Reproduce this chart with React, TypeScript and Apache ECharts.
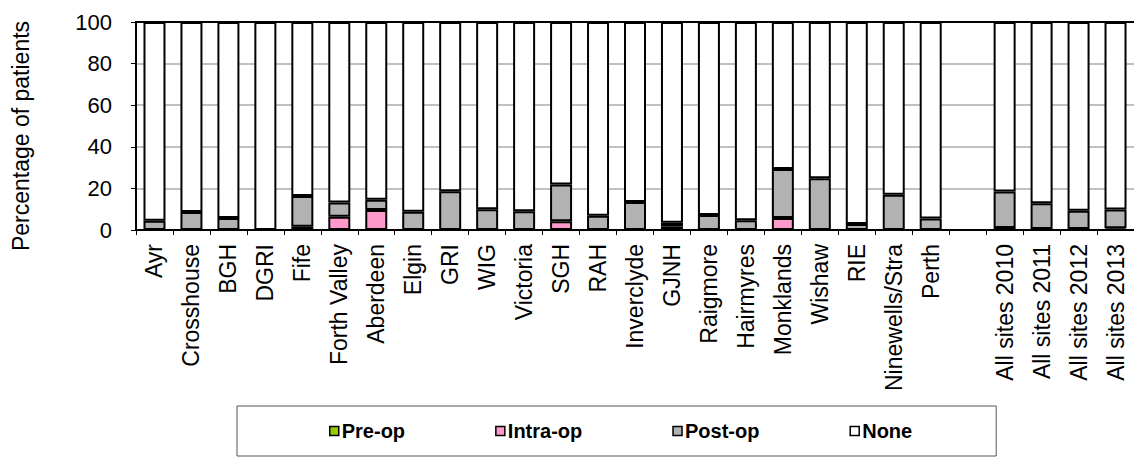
import React, { useEffect, useRef } from "react";
import * as echarts from "echarts";

const categories = [
  "Ayr", "Crosshouse", "BGH", "DGRI", "Fife", "Forth Valley", "Aberdeen", "Elgin",
  "GRI", "WIG", "Victoria", "SGH", "RAH", "Inverclyde", "GJNH", "Raigmore",
  "Hairmyres", "Monklands", "Wishaw", "RIE", "Ninewells/Stra", "Perth", "",
  "All sites 2010", "All sites 2011", "All sites 2012", "All sites 2013",
];

const preOp: (number | string)[] = [
  0, 0, 0, 0, 0, 0, 0, 0, 0, 0, 0, 0, 0, 0, 0, 0, 0, 0, 0, 0, 0, 0, "-", 0, 0, 0, 0,
];
const intraOp: (number | string)[] = [
  0, 0, 0, 0, 1.6, 6.4, 9.6, 0, 0, 0, 0, 4.2, 0, 0, 1.6, 0, 0, 5.8, 0, 0, 0, 0, "-", 1.0, 0.5, 0.5, 0.8,
];
const postOp: (number | string)[] = [
  4.5, 8.7, 5.8, 0, 14.8, 6.8, 4.9, 8.8, 18.6, 10.0, 9.0, 17.7, 6.9, 13.5, 1.9, 7.2,
  4.7, 23.5, 24.9, 2.9, 16.9, 5.5, "-", 17.5, 12.4, 8.8, 9.0,
];
const num = (v: number | string) => (typeof v === "number" ? v : 0);
const none: (number | string)[] = categories.map((_, i) =>
  typeof postOp[i] === "number"
    ? Math.round((100 - num(preOp[i]) - num(intraOp[i]) - num(postOp[i])) * 10) / 10
    : "-"
);
// zero-height segments are left out so they draw no extra outline
const hideZero = (arr: (number | string)[]) => arr.map((v) => (v === 0 ? "-" : v));

const yTicks = { min: 0, max: 100, interval: 20 };

const FONT = "'Liberation Sans', Arial, sans-serif";

export default function App() {
  const ref = useRef<HTMLDivElement>(null);
  useEffect(() => {
    if (!ref.current) return;
    const chart = echarts.init(ref.current, undefined, { renderer: "svg" });
    const barCommon = {
      type: "bar" as const,
      stack: "total",
      barWidth: 22,
      itemStyle: { borderColor: "#000", borderWidth: 2 },
    };
    chart.setOption({
      animation: false,
      backgroundColor: "#fff",
      textStyle: { fontFamily: FONT },
      grid: { left: 136, right: 0, top: 22, bottom: 230 },
      legend: {
        left: 237,
        top: 406,
        padding: [15, 84, 15, 92],
        borderColor: "#555",
        borderWidth: 1,
        itemWidth: 9,
        itemHeight: 9,
        itemGap: 90,
        icon: "rect",
        itemStyle: { borderColor: "#000", borderWidth: 1.5 },
        textStyle: { fontFamily: FONT, fontSize: 20, fontWeight: "bold", color: "#000", padding: [0, 0, 0, -2] },
        data: ["Pre-op", "Intra-op", "Post-op", "None"],
      },
      xAxis: [
        {
          type: "category",
          data: categories,
          axisLine: { lineStyle: { color: "#000", width: 2 } },
          axisTick: { show: true, length: 5, interval: 0, lineStyle: { color: "#000", width: 1 } },
          axisLabel: { interval: 0, rotate: 90, margin: 14, fontSize: 23, color: "#000", fontFamily: FONT },
          splitLine: { show: false },
        },
        {
          type: "category",
          position: "top",
          data: categories,
          axisLine: { lineStyle: { color: "#000", width: 2 } },
          axisTick: { show: false },
          axisLabel: { show: false },
        },
      ],
      yAxis: {
        type: "value",
        min: yTicks.min,
        max: yTicks.max,
        interval: yTicks.interval,
        name: "Percentage of patients",
        nameLocation: "middle",
        nameGap: 104,
        nameTextStyle: { fontSize: 23, color: "#000", fontFamily: FONT, padding: [0, 20, 0, 0] },
        axisLine: { show: true, lineStyle: { color: "#000", width: 2 } },
        axisTick: { show: true, length: 5, lineStyle: { color: "#000", width: 1 } },
        axisLabel: { margin: 24, fontSize: 22, color: "#000", fontFamily: FONT },
        splitLine: { show: true, lineStyle: { color: "#c0c0c0", width: 2 } },
      },
      series: [
        { ...barCommon, name: "Pre-op", data: hideZero(preOp), itemStyle: { ...barCommon.itemStyle, color: "#99cc00" } },
        { ...barCommon, name: "Intra-op", data: hideZero(intraOp), itemStyle: { ...barCommon.itemStyle, color: "#ff99cc" } },
        { ...barCommon, name: "Post-op", data: hideZero(postOp), itemStyle: { ...barCommon.itemStyle, color: "#b2b2b2" } },
        { ...barCommon, name: "None", data: none, itemStyle: { ...barCommon.itemStyle, color: "#ffffff" } },
      ],
    });
    return () => chart.dispose();
  }, []);
  return (
    <div
      ref={ref}
      style={{ position: "fixed", left: 0, top: 0, width: 1134, height: 460, background: "#fff" }}
    />
  );
}
